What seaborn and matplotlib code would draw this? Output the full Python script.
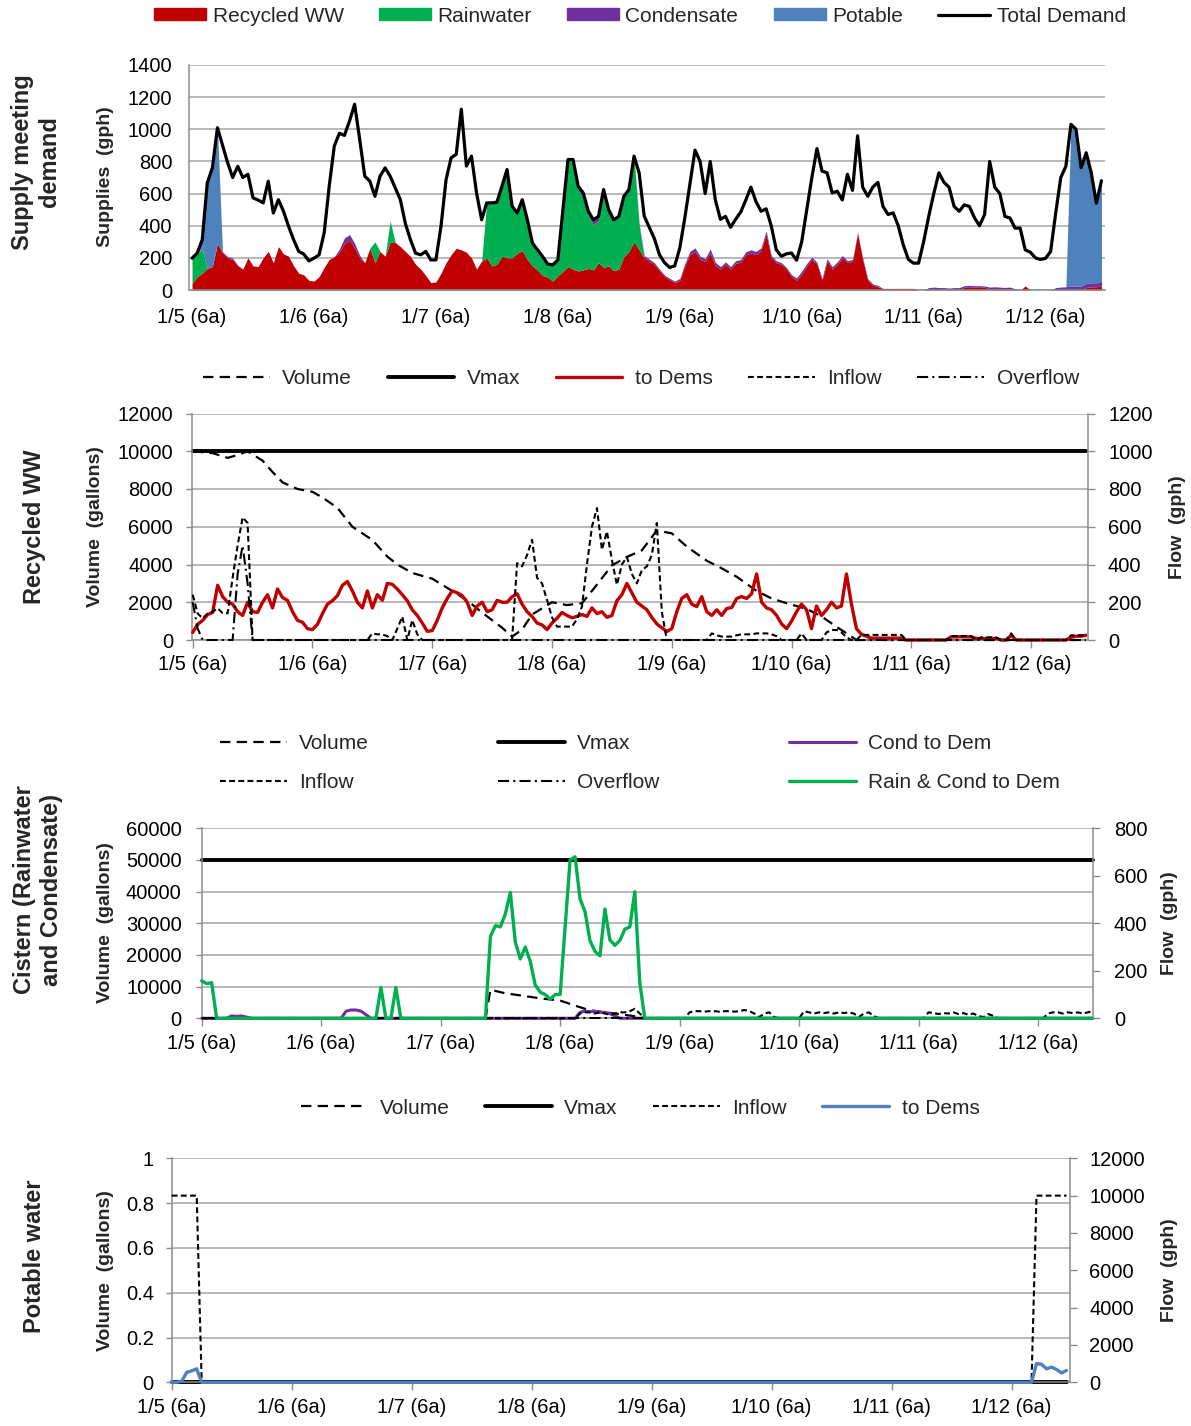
import numpy as np
import matplotlib

matplotlib.use("Agg")
import matplotlib.pyplot as plt
from matplotlib.lines import Line2D
from matplotlib.patches import Patch
from matplotlib.ticker import FormatStrFormatter
import seaborn as sns

sns.set_theme(style="white")
plt.rcParams["font.family"] = ["Liberation Sans", "DejaVu Sans"]
plt.rcParams["lines.scale_dashes"] = False

W, H = 1191, 1426
N = 180  # hourly steps starting 1/5 6am
hours = np.arange(N)

day_ticks = [0, 24, 48, 72, 96, 120, 144, 168]
day_labels = ["1/5 (6a)", "1/6 (6a)", "1/7 (6a)", "1/8 (6a)",
              "1/9 (6a)", "1/10 (6a)", "1/11 (6a)", "1/12 (6a)"]

# ---------------------------------------------------------------------------
# Supply meeting demand (gph)
# ---------------------------------------------------------------------------
total_demand = [
    198, 229, 312, 667, 760, 1010, 900, 792, 700, 770, 700, 720,
    573, 560, 542, 677, 479, 562, 490, 396, 312, 240, 223, 181,
    198, 219, 354, 646, 896, 975, 962, 1052, 1156, 937, 708, 677,
    583, 708, 760, 708, 635, 562, 412, 312, 229, 219, 240, 187,
    187, 396, 687, 823, 844, 1125, 771, 833, 604, 437, 542, 542,
    546, 646, 750, 521, 479, 562, 437, 292, 250, 208, 162, 156,
    187, 500, 812, 812, 646, 604, 490, 437, 458, 625, 500, 437,
    458, 583, 625, 833, 729, 460, 390, 320, 220, 170, 140, 150,
    260, 450, 660, 870, 800, 600, 800, 560, 440, 458, 390, 440,
    485, 560, 640, 550, 490, 505, 400, 250, 210, 225, 230, 185,
    300, 500, 700, 880, 740, 729, 604, 615, 560, 720, 620, 960,
    640, 583, 640, 670, 520, 470, 480, 400, 280, 190, 167, 167,
    300, 458, 600, 729, 670, 640, 520, 490, 530, 520, 450, 400,
    470, 800, 640, 600, 458, 448, 385, 385, 250, 235, 200, 190,
    197, 240, 480, 700, 770, 1031, 1000, 760, 854, 729, 540, 680,
]

recycled_ww = [
    40, 83, 104, 135, 146, 290, 230, 200, 190, 150, 130, 200,
    150, 146, 200, 240, 170, 270, 225, 210, 150, 104, 94, 60,
    55, 83, 140, 190, 208, 235, 290, 310, 260, 200, 170, 260,
    170, 240, 210, 300, 295, 270, 240, 208, 160, 130, 90, 46,
    50, 104, 170, 220, 260, 250, 235, 200, 130, 180, 200, 150,
    160, 210, 200, 200, 229, 245, 190, 150, 125, 90, 80, 55,
    90, 115, 146, 130, 118, 125, 135, 125, 170, 140, 150, 120,
    130, 208, 240, 300, 250, 200, 180, 160, 120, 85, 65, 45,
    60, 150, 220, 240, 190, 177, 230, 150, 130, 160, 130, 167,
    172, 220, 230, 220, 245, 350, 200, 170, 160, 130, 85, 60,
    100, 150, 190, 160, 60, 180, 130, 160, 200, 170, 180, 350,
    190, 60, 30, 20, 10, 10, 10, 10, 10, 10, 10, 0,
    0, 0, 0, 0, 0, 0, 0, 0, 17, 17, 17, 17,
    17, 8, 8, 8, 8, 8, 0, 0, 25, 0, 0, 0,
    0, 0, 0, 0, 0, 0, 0, 0, 15, 20, 20, 25,
]

condensate = (
    [0] * 6 + [8, 8, 8, 5] + [0] * 19 + [20, 35, 35, 30, 15] + [0] * 42
    + [25, 30, 28, 30, 25, 25, 20, 10] + [0] * 4
    + [15, 15, 12, 10, 10, 8, 8, 10, 12, 15, 20, 22, 20, 18, 25, 22,
       15, 15, 15, 15, 18, 18, 20, 20, 18, 18, 15, 12, 10, 10, 10, 15,
       18, 15, 15, 12, 12, 15, 15, 15, 15, 12, 10, 10, 10, 10, 8, 8]
    + [0] * 9 + [15, 18, 15, 15, 12, 15, 15]
    + [10, 12, 10, 10, 8, 10, 12, 10, 8, 10, 8] + [0] * 7
    + [15, 18, 20, 25, 25, 25, 25, 25, 25, 30]
)

rain_hours = [0, 1, 2, 36, 39,
              58, 59, 60, 61, 62, 63, 64, 65, 66, 67, 68, 69, 70, 71, 72, 73,
              74, 75, 76, 77, 78, 79, 80, 81, 82, 83, 84, 85, 86, 87, 88]
rain_vals = [158, 146, 150, 130, 130,
             345, 390, 385, 440, 530, 320, 250, 300, 240, 140, 110, 100, 80,
             100, 100, 385, 666, 680, 503, 449, 327, 282, 263, 460, 330, 307,
             328, 375, 385, 533, 150]

potable_hours = [2, 3, 4, 5, 173, 174, 175, 176, 177, 178, 179]
potable_vals = [60, 530, 614, 720, 1000, 970, 725, 814, 690, 500, 635]

# ---------------------------------------------------------------------------
# Recycled WW tank
# ---------------------------------------------------------------------------
ww_vmax = 10000
ww_vol_hours = [0, 4, 7, 9, 11, 14, 16, 18, 21, 24, 26, 29, 32, 36, 39, 41,
                44, 48, 52, 55, 58, 62, 64, 66, 68, 72, 75, 78, 80, 84, 87,
                90, 93, 96, 99, 103, 106, 109, 113, 116, 119, 123, 126, 129,
                132, 133, 179]
ww_vol = [10000, 9900, 9650, 9800, 10000, 9500, 8900, 8350, 8000, 7850, 7550,
          7000, 6000, 5300, 4420, 4000, 3550, 3250, 2600, 2100, 1450, 650,
          180, 550, 1350, 2000, 1850, 1950, 2600, 3950, 4400, 4750, 5800,
          5650, 4950, 4200, 3800, 3350, 2600, 2200, 1950, 1650, 1250, 700,
          180, 0, 0]

ww_in_hours = [0, 1, 2, 3, 4, 5, 6, 7, 8, 9, 10, 11,
               36, 37, 38, 39, 41, 42, 44, 45,
               65, 66, 67, 68, 69, 70, 71, 72, 73, 74, 75, 76, 77, 78, 79,
               80, 81, 82, 83, 84, 85, 86, 87, 88, 89, 90, 91, 92, 93, 94,
               104, 105, 106, 107, 108, 109, 110, 111, 112, 113, 114, 115,
               116, 117, 122, 127, 128, 129, 130, 131,
               134, 135, 136, 137, 138, 139, 140, 141, 142,
               152, 153, 154, 155, 156, 158, 159, 160, 161, 164,
               176, 177, 178, 179]
ww_in_vals = [240, 140, 115, 140, 150, 168, 142, 142, 330, 500, 650, 620,
              35, 30, 30, 20, 60, 124, 106, 30,
              407, 390, 450, 531, 330, 300, 212, 120, 71, 71, 71, 71, 110,
              177, 400, 600, 699, 478, 575, 425, 292, 400, 440, 350, 300,
              370, 390, 450, 620, 150,
              35, 25, 18, 18, 18, 25, 30, 30, 30, 35, 35, 35, 30, 20, 35,
              40, 53, 53, 40, 15,
              27, 27, 27, 27, 27, 27, 27, 27, 27,
              21, 21, 21, 21, 21, 14, 14, 14, 14, 35,
              25, 25, 25, 25]

ww_over_hours = [0, 1, 9, 10, 11]
ww_over_vals = [200, 60, 350, 500, 300]

# ---------------------------------------------------------------------------
# Cistern (rainwater and condensate)
# ---------------------------------------------------------------------------
cis_vmax = 50000
cis_vol_hours = [0, 57, 58, 61, 65, 68, 72, 75, 78, 82, 85, 88, 89, 179]
cis_vol = [0, 0, 9000, 7900, 7000, 6300, 5600, 4000, 2500, 1700, 1100, 400,
           0, 0]

cis_in_hours = list(range(76, 89)) + list(range(98, 116)) + \
    list(range(121, 136)) + list(range(146, 160)) + list(range(170, 180))
cis_in_vals = [20, 25, 25, 20, 25, 20, 15, 20, 25, 25, 30, 40, 20,
               25, 30, 30, 28, 30, 30, 28, 30, 30, 28, 30, 35, 30, 20, 5,
               20, 25, 5,
               30, 25, 20, 25, 22, 25, 20, 25, 22, 25, 20, 5, 20, 25, 10,
               25, 22, 18, 22, 20, 25, 18, 22, 15, 20, 10, 5, 18, 10,
               20, 25, 25, 20, 25, 22, 25, 20, 25, 30]

cis_cond_hours = [6, 7, 8, 9, 29, 30, 31, 32, 33,
                  76, 77, 78, 79, 80, 81, 82, 83]
cis_cond_vals = [10, 8, 10, 5, 30, 35, 35, 30, 15,
                 25, 30, 28, 30, 25, 25, 20, 10]

# ---------------------------------------------------------------------------
# Potable water
# ---------------------------------------------------------------------------
pot_vmax = 0
pot_vol = 0
pot_in_hours = [0, 1, 2, 3, 4, 5, 173, 174, 175, 176, 177, 178, 179]
pot_in_vals = [10000] * 13


def hourly(idx, vals):
    out = np.zeros(N)
    out[idx] = vals
    return out


rain = hourly(rain_hours, rain_vals)
potable = hourly(potable_hours, potable_vals)
ww_inflow = hourly(ww_in_hours, ww_in_vals)
ww_overflow = hourly(ww_over_hours, ww_over_vals)
cis_inflow = hourly(cis_in_hours, cis_in_vals)
cis_cond = hourly(cis_cond_hours, cis_cond_vals)
pot_inflow = hourly(pot_in_hours, pot_in_vals)
assert len(total_demand) == len(recycled_ww) == len(condensate) == N

RED, GREEN, PURPLE, BLUE = "#C00000", "#00B050", "#7030A0", "#4F81BD"
GRID, SPINE = "#A6A6A6", "#8C8C8C"
TICK_FS, LEG_FS, AX_FS, OUT_FS = 14.5, 15, 14, 17
VOL_LS = (0, (7.5, 4.5))
IN_LS = (0, (4.2, 2.4))
OVER_LS = (0, (8, 3, 1.5, 3))

fig = plt.figure(figsize=(W / 100, H / 100), dpi=100)


def box(x0, y_top, x1, y_bot):
    return [x0 / W, 1 - y_bot / H, (x1 - x0) / W, (y_bot - y_top) / H]


def fxy(x, y):
    return (x / W, 1 - y / H)


def line(ax, x, y, **kw):
    sns.lineplot(x=x, y=y, ax=ax, legend=False, clip_on=False, **kw)
    return ax.get_lines()[-1]


def vlabel(x, y, text, size, bold=True):
    fig.text(*fxy(x, y), text, rotation=90, ha="center", va="center",
             fontsize=size, fontweight="bold" if bold else "normal",
             multialignment="center", linespacing=1.25)


def style_twin(ax, axr, xlim, vmax_l, lticks, vmax_r, rticks, lpad, rpad):
    ax.set_xlim(*xlim)
    ax.set_ylim(0, vmax_l)
    axr.set_ylim(0, vmax_r)
    ax.set_yticks(lticks)
    axr.set_yticks(rticks)
    ax.set_xticks(day_ticks, day_labels)
    ax.yaxis.grid(True, color=GRID, linewidth=1.1)
    ax.xaxis.grid(False)
    ax.set_axisbelow(True)
    for s in ["top", "right"]:
        ax.spines[s].set_visible(False)
    for s in ["left", "bottom"]:
        ax.spines[s].set_color(SPINE)
        ax.spines[s].set_linewidth(1.1)
    for s in ["top", "left", "bottom"]:
        axr.spines[s].set_visible(False)
    axr.spines["right"].set_color(SPINE)
    axr.spines["right"].set_linewidth(1.1)
    ax.tick_params(axis="y", left=True, length=4.5, width=1, color=SPINE,
                   pad=lpad, labelsize=TICK_FS, labelcolor="black")
    ax.tick_params(axis="x", bottom=True, length=6, width=1, color=SPINE,
                   pad=5, labelsize=TICK_FS, labelcolor="black")
    axr.tick_params(axis="y", right=True, length=5, width=1, color=SPINE,
                    pad=rpad, labelsize=TICK_FS, labelcolor="black")
    for a in (ax, axr):
        a.set_xlabel("")
        a.set_ylabel("")


# ---- Panel 1: supply meeting demand --------------------------------------
ax1 = fig.add_axes(box(189, 65, 1105, 290))
ax1.stackplot(hours, recycled_ww, rain, condensate, potable,
              colors=[RED, GREEN, PURPLE, BLUE], linewidth=0)
sns.lineplot(x=hours, y=total_demand, ax=ax1, color="black", linewidth=2.3,
             legend=False)
ax1.set_xlim(-0.6, 179.7)
ax1.set_ylim(0, 1400)
ax1.set_yticks(range(0, 1401, 200))
ax1.set_xticks(day_ticks, day_labels)
ax1.yaxis.grid(True, color=GRID, linewidth=1.1)
ax1.set_axisbelow(True)
for s in ["top", "right"]:
    ax1.spines[s].set_visible(False)
for s in ["left", "bottom"]:
    ax1.spines[s].set_color(SPINE)
    ax1.spines[s].set_linewidth(1.1)
ax1.tick_params(axis="y", length=0, pad=12, labelsize=TICK_FS, labelcolor="black")
ax1.tick_params(axis="x", length=0, pad=13, labelsize=TICK_FS, labelcolor="black")
ax1.set_xlabel("")
ax1.set_ylabel("")

h1 = [Patch(color=RED), Patch(color=GREEN), Patch(color=PURPLE),
      Patch(color=BLUE), Line2D([], [], color="black", linewidth=2.3)]
fig.legend(h1, ["Recycled WW", "Rainwater", "Condensate", "Potable",
                "Total Demand"],
           loc="center", bbox_to_anchor=fxy(640, 16), ncol=5, frameon=False,
           fontsize=LEG_FS, handlelength=2.5, handleheight=0.55,
           handletextpad=0.3, columnspacing=1.7)
vlabel(36, 162, "Supply meeting\ndemand", OUT_FS)
vlabel(105, 177, "Supplies  (gph)", AX_FS)

# ---- Panel 2: recycled WW --------------------------------------------------
ax2 = fig.add_axes(box(191.7, 413.5, 1088, 640))
ax2r = ax2.twinx()
l_vol = line(ax2, ww_vol_hours, ww_vol, color="black", linewidth=1.6,
             linestyle=VOL_LS)
l_vmax = line(ax2, hours, [ww_vmax] * N, color="black", linewidth=2.8)
l_dem = line(ax2r, hours, recycled_ww, color=RED, linewidth=2.4)
l_in = line(ax2r, hours, ww_inflow, color="black", linewidth=1.5,
            linestyle=IN_LS)
l_over = line(ax2r, hours, ww_overflow, color="black", linewidth=1.5,
              linestyle=OVER_LS)
style_twin(ax2, ax2r, (-0.2, 179.4), 12000, range(0, 12001, 2000),
           1200, range(0, 1201, 200), 9, 9.4)
fig.legend([l_vol, l_vmax, l_dem, l_in, l_over],
           ["Volume", "Vmax", "to Dems", "Inflow", "Overflow"],
           loc="center", bbox_to_anchor=fxy(641, 379), ncol=5, frameon=False,
           fontsize=LEG_FS, handlelength=3.2, handletextpad=0.6,
           columnspacing=1.7)
vlabel(35, 527, "Recycled WW", OUT_FS)
vlabel(96, 527, "Volume  (gallons)", AX_FS)
vlabel(1177, 527, "Flow  (gph)", AX_FS)

# ---- Panel 3: cistern ------------------------------------------------------
ax3 = fig.add_axes(box(201.7, 828.3, 1093.3, 1018.3))
ax3r = ax3.twinx()
c_vol = line(ax3, cis_vol_hours, cis_vol, color="black", linewidth=1.6,
             linestyle=VOL_LS)
c_vmax = line(ax3, hours, [cis_vmax] * N, color="black", linewidth=2.8)
c_cond = line(ax3r, hours, cis_cond, color=PURPLE, linewidth=2.2)
c_in = line(ax3r, hours, cis_inflow, color="black", linewidth=1.5,
            linestyle=IN_LS)
c_over = line(ax3r, hours, np.zeros(N), color="black", linewidth=1.5,
              linestyle=OVER_LS)
c_rain = line(ax3r, hours, rain, color=GREEN, linewidth=2.4)
style_twin(ax3, ax3r, (0, 179.1), 60000, range(0, 60001, 10000),
           800, range(0, 801, 200), 9.9, 9.9)
fig.legend([c_vol, c_in, c_vmax, c_over, c_cond, c_rain],
           ["Volume", "Inflow", "Vmax", "Overflow", "Cond to Dem",
            "Rain & Cond to Dem"],
           loc="center", bbox_to_anchor=fxy(640, 763), ncol=3, frameon=False,
           fontsize=LEG_FS, handlelength=3.2, handletextpad=0.6,
           columnspacing=6.2, labelspacing=0.95)
vlabel(38, 890, "Cistern (Rainwater\nand Condensate)", OUT_FS)
vlabel(105, 923, "Volume  (gallons)", AX_FS)
vlabel(1169, 923, "Flow  (gph)", AX_FS)

# ---- Panel 4: potable water -------------------------------------------------
ax4 = fig.add_axes(box(171.7, 1158.3, 1070, 1382.3))
ax4r = ax4.twinx()
p_vol = line(ax4, hours, [pot_vol] * N, color="black", linewidth=1.6,
             linestyle=VOL_LS)
p_vmax = line(ax4, hours, [pot_vmax] * N, color="black", linewidth=2.8)
p_in = line(ax4r, hours, pot_inflow, color="black", linewidth=1.5,
            linestyle=IN_LS)
p_dem = line(ax4r, hours, potable, color=BLUE, linewidth=2.4)
style_twin(ax4, ax4r, (0, 179.7), 1, np.linspace(0, 1, 6),
           12000, range(0, 12001, 2000), 8.4, 8.9)
ax4.yaxis.set_major_formatter(FormatStrFormatter("%g"))
fig.legend([p_vol, p_vmax, p_in, p_dem],
           ["Volume", "Vmax", "Inflow", "to Dems"],
           loc="center", bbox_to_anchor=fxy(640, 1108), ncol=4, frameon=False,
           fontsize=LEG_FS, handlelength=3.2, handletextpad=0.6,
           columnspacing=1.7)
vlabel(35, 1256, "Potable water", OUT_FS)
vlabel(105, 1271, "Volume  (gallons)", AX_FS)
vlabel(1169, 1270, "Flow  (gph)", AX_FS)

fig.savefig("out.png", dpi=100)
